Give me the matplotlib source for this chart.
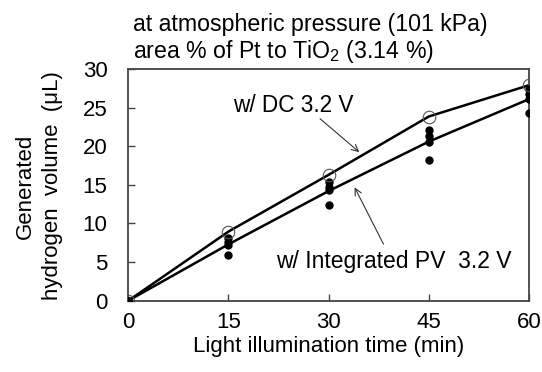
import matplotlib
matplotlib.use("Agg")
import matplotlib.pyplot as plt

plt.rcParams['font.family'] = ['Liberation Sans', 'DejaVu Sans']
plt.rcParams['mathtext.fontset'] = 'custom'
plt.rcParams['mathtext.rm'] = 'Liberation Sans'
plt.rcParams['mathtext.it'] = 'Liberation Sans:italic'

# Data
time_min = [0, 15, 30, 45, 60]
dc_volume = [0, 8.95, 16.3, 23.85, 27.9]
pv_line = [0, 7.3, 14.2, 20.6, 26.1]
pv_trials = [
    [0, 0, 0, 0],
    [8.15, 7.65, 7.2, 5.9],
    [15.4, 14.75, 14.3, 12.4],
    [22.1, 21.3, 20.6, 18.2],
    [27.4, 26.7, 26.1, 24.3],
]
xticks = [0, 15, 30, 45, 60]
yticks = [0, 5, 10, 15, 20, 25, 30]

fig = plt.figure(figsize=(5.42, 3.72), dpi=100)
ax = fig.add_axes([0.2367, 0.1917, 0.7393, 0.6228])

ax.plot(time_min, dc_volume, color='black', lw=1.8, zorder=2)
ax.plot(time_min, pv_line, color='black', lw=1.8, zorder=2)
for t, vals in zip(time_min, pv_trials):
    ax.plot([t] * len(vals), vals, 'o', color='black', ms=5, zorder=3)
ax.plot(time_min, dc_volume, 'o', mfc='none', mec='#555555', mew=0.8, ms=9, zorder=4)

ax.set_xlim(0, 60)
ax.set_ylim(0, 30)
ax.set_xticks(xticks)
ax.set_yticks(yticks)
ax.tick_params(direction='in', length=5, width=1, color='#444444', labelsize=16)
ax.tick_params(axis='x', pad=8)
ax.tick_params(axis='y', pad=15)
for s in ax.spines.values():
    s.set_color('#444444')
    s.set_linewidth(1.3)
ax.set_xlabel('Light illumination time (min)', fontsize=16, labelpad=2)

fig.text(39 / 542, 1 - 186 / 372, 'Generated\nhydrogen  volume  (μL)', rotation=90,
         ha='center', va='center', fontsize=16, linespacing=1.4)

fig.text(133 / 542, 1 - 31 / 372, 'at atmospheric pressure (101 kPa)', fontsize=16.7,
         ha='left', va='baseline')
fig.text(133 / 542, 1 - 58 / 372, 'area % of Pt to TiO$_2$ (3.14 %)', fontsize=16.7,
         ha='left', va='baseline')

ax.text(15.7, 25.3, 'w/ DC 3.2 V', fontsize=16.3, ha='left', va='center')
ax.annotate('', xy=(34.9, 19.0), xytext=(28.4, 23.8),
            arrowprops=dict(arrowstyle='->', lw=0.8, color='#333333', mutation_scale=12))
ax.text(22.1, 5.05, 'w/ Integrated PV  3.2 V', fontsize=16.5, ha='left', va='center')
ax.annotate('', xy=(33.7, 15.0), xytext=(38.4, 7.0),
            arrowprops=dict(arrowstyle='->', lw=0.8, color='#333333', mutation_scale=12))

fig.savefig('out.png', dpi=100)
